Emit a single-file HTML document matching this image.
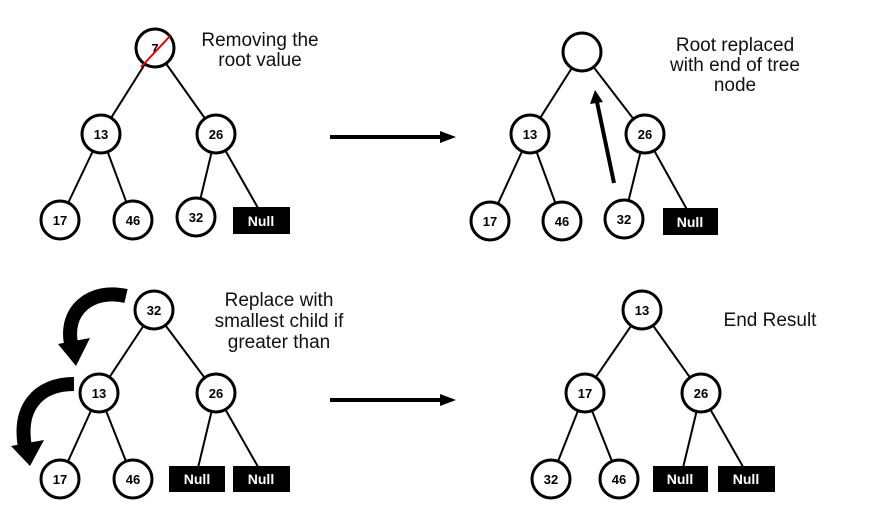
<!DOCTYPE html>
<html><head><meta charset="utf-8"><style>
html,body{margin:0;padding:0;background:#fff;width:874px;height:529px;overflow:hidden}
svg text{font-family:"Liberation Sans",sans-serif}
.n{font-size:13px;font-weight:bold;text-anchor:middle}
.l{font-size:19px;text-anchor:middle;fill:#111}
.w{fill:#fff;font-size:14px;font-weight:bold;text-anchor:middle}
</style></head><body>
<svg width="874" height="529" viewBox="0 0 874 529" xmlns="http://www.w3.org/2000/svg">
<g stroke="#000" stroke-width="2" fill="none">
<line x1="155" y1="48" x2="101" y2="134"/><line x1="155" y1="48" x2="216" y2="134"/>
<line x1="101" y1="134" x2="60" y2="220"/><line x1="101" y1="134" x2="133" y2="220"/>
<line x1="216" y1="134" x2="196" y2="217"/><line x1="216" y1="134" x2="262" y2="215"/>
<line x1="582" y1="52" x2="530" y2="134"/><line x1="582" y1="52" x2="645" y2="134"/>
<line x1="530" y1="134" x2="490" y2="221"/><line x1="530" y1="134" x2="562" y2="221"/>
<line x1="645" y1="134" x2="624" y2="219"/><line x1="645" y1="134" x2="690" y2="215"/>
<line x1="154" y1="310" x2="99" y2="393"/><line x1="154" y1="310" x2="216" y2="393"/>
<line x1="99" y1="393" x2="60" y2="479"/><line x1="99" y1="393" x2="133" y2="479"/>
<line x1="216" y1="393" x2="197" y2="472"/><line x1="216" y1="393" x2="261" y2="472"/>
<line x1="642" y1="310" x2="585" y2="393"/><line x1="642" y1="310" x2="701" y2="393"/>
<line x1="585" y1="393" x2="551" y2="479"/><line x1="585" y1="393" x2="619" y2="479"/>
<line x1="701" y1="393" x2="682" y2="472"/><line x1="701" y1="393" x2="746" y2="472"/>
</g>
<g stroke="#000" stroke-width="3" fill="#fff">
<circle cx="155" cy="48" r="19"/><circle cx="101" cy="134" r="19"/><circle cx="216" cy="134" r="19"/>
<circle cx="60" cy="220" r="19"/><circle cx="133" cy="220" r="19"/><circle cx="196" cy="217" r="19"/>
<circle cx="582" cy="52" r="19"/><circle cx="530" cy="134" r="19"/><circle cx="645" cy="134" r="19"/>
<circle cx="490" cy="221" r="19"/><circle cx="562" cy="221" r="19"/><circle cx="624" cy="219" r="19"/>
<circle cx="154" cy="310" r="19"/><circle cx="99" cy="393" r="19"/><circle cx="216" cy="393" r="19"/>
<circle cx="60" cy="479" r="19"/><circle cx="133" cy="479" r="19"/>
<circle cx="642" cy="310" r="19"/><circle cx="585" cy="393" r="19"/><circle cx="701" cy="393" r="19"/>
<circle cx="551" cy="479" r="19"/><circle cx="619" cy="479" r="19"/>
</g>
<g fill="#000">
<rect x="233" y="207" width="57" height="27"/><rect x="663" y="208" width="55" height="27"/>
<rect x="169" y="466" width="56" height="26"/><rect x="233" y="466" width="57" height="26"/>
<rect x="653" y="466" width="55" height="26"/><rect x="718" y="466" width="57" height="26"/>
</g>
<g class="n">
<text x="155" y="53" class="n">7</text>
<text x="101" y="139">13</text><text x="216" y="139">26</text><text x="60" y="225">17</text><text x="133" y="225">46</text><text x="196" y="222">32</text>
<text x="530" y="139">13</text><text x="645" y="139">26</text><text x="490" y="226">17</text><text x="562" y="226">46</text><text x="624" y="224">32</text>
<text x="154" y="315">32</text><text x="99" y="398">13</text><text x="216" y="398">26</text><text x="60" y="484">17</text><text x="133" y="484">46</text>
<text x="642" y="315">13</text><text x="585" y="398">17</text><text x="701" y="398">26</text><text x="551" y="484">32</text><text x="619" y="484">46</text>
</g>
<g class="w">
<text x="261" y="226">Null</text><text x="690" y="227">Null</text>
<text x="197" y="484">Null</text><text x="261" y="484">Null</text>
<text x="680" y="484">Null</text><text x="746" y="484">Null</text>
</g>
<line x1="141" y1="67" x2="170" y2="36" stroke="#e00" stroke-width="2"/>
<line x1="330" y1="137" x2="443" y2="137" stroke="#000" stroke-width="4"/>
<polygon points="440,131 456,137 440,143" fill="#000"/>
<line x1="330" y1="400" x2="443" y2="400" stroke="#000" stroke-width="4"/>
<polygon points="440,394 456,400 440,406" fill="#000"/>
<line x1="614" y1="183" x2="597" y2="102" stroke="#000" stroke-width="4"/>
<polygon points="590,104 595,90 603,102" fill="#000"/>
<path d="M126,296 C92,288 62,310 72,348" stroke="#000" stroke-width="14" fill="none"/>
<polygon points="58,344 90,338 76,366" fill="#000"/>
<path d="M74,384 C38,384 16,408 26,452" stroke="#000" stroke-width="14" fill="none"/>
<polygon points="11,446 44,440 30,466" fill="#000"/>
<text class="l" x="260" y="46">Removing the</text><text class="l" x="260" y="66">root value</text>
<text class="l" x="735" y="51">Root replaced</text><text class="l" x="735" y="71">with end of tree</text><text class="l" x="735" y="91">node</text>
<text class="l" x="279" y="306">Replace with</text><text class="l" x="279" y="327">smallest child if</text><text class="l" x="279" y="348">greater than</text>
<text class="l" x="770" y="326">End Result</text>
</svg>
</body></html>
